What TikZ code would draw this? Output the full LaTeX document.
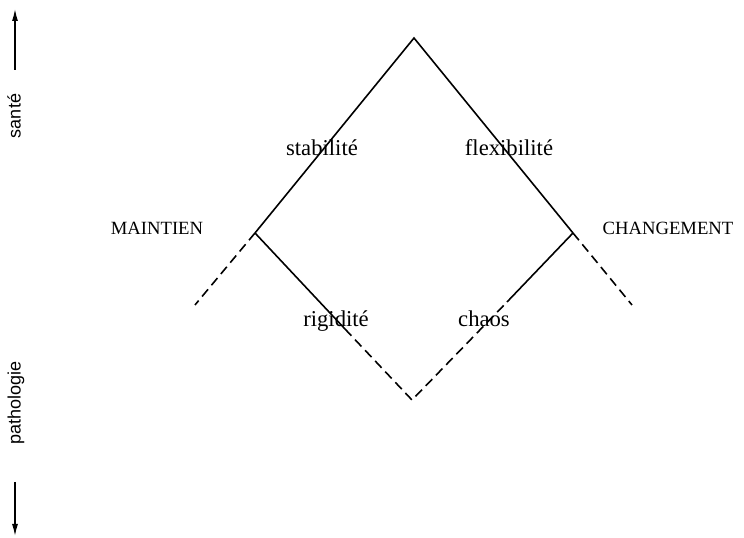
\documentclass[tikz,border=0pt]{standalone}
\usepackage{fontspec}
\setmainfont{Liberation Serif}
\setsansfont{Liberation Sans}
\usetikzlibrary{arrows.meta}

\tikzset{
  branch/.style = {line width = 1.2pt},
  broken/.style = {line width = 1.2pt, dash pattern = on 7pt off 4pt},
  word/.style = {anchor = base, inner sep = 0pt, font = \fontsize{17}{20}\selectfont},
  pole/.style = {anchor = base, inner sep = 0pt, font = \fontsize{14}{17}\selectfont},
  axislabel/.style = {rotate = 90, anchor = base, inner sep = 0pt,
                      font = \sffamily\fontsize{13.5}{16}\selectfont},
}

\begin{document}
\begin{tikzpicture}[x = .75pt, y = -.75pt]
      \useasboundingbox (0,0) rectangle (744,538);
      % corners of the diagram
      \coordinate (top) at (414,38);
      \coordinate (lft) at (255,233);
      \coordinate (rgt) at (573,233);
      \coordinate (bot) at (412,400);
      \coordinate (lend) at (195,305);
      \coordinate (rend) at (632,305);
      \coordinate (lsplit) at (345,329);
      \coordinate (rsplit) at (507,302);
      \draw [branch] (lft) -- (top) -- (rgt);
      \draw [broken] (lft) -- (lend);
      \draw [broken] (rgt) -- (rend);
      \draw [branch] (lft) -- (lsplit);
      \draw [broken] (lsplit) -- (bot) -- (rsplit);
      \draw [branch] (rsplit) -- (rgt);
      % labels
      \node [word] (stab) at (322,156) {stabilité};
      \node [word] (flex) at (509,156) {flexibilité};
      \node [pole] (maint) at (157,235) {MAINTIEN};
      \node [pole] (chang) at (668,235) {CHANGEMENT};
      \node [word] (rigid) at (336,327) {rigidité};
      \node [word] (chaos) at (484,327) {chaos};
      % health axis
      \node [axislabel] (sante) at (20.5,116) {santé};
      \node [axislabel] (patho) at (20.5,403) {pathologie};
      \coordinate (up0) at (15,70);
      \coordinate (up1) at (15,9);
      \coordinate (dn0) at (15,482);
      \coordinate (dn1) at (15,536);
      \draw [-{Latex[length = 9pt, width = 4.5pt]}, line width = 1pt] (up0) -- (up1);
      \draw [-{Latex[length = 9pt, width = 4.5pt]}, line width = 1pt] (dn0) -- (dn1);
    \end{tikzpicture}
\end{document}
